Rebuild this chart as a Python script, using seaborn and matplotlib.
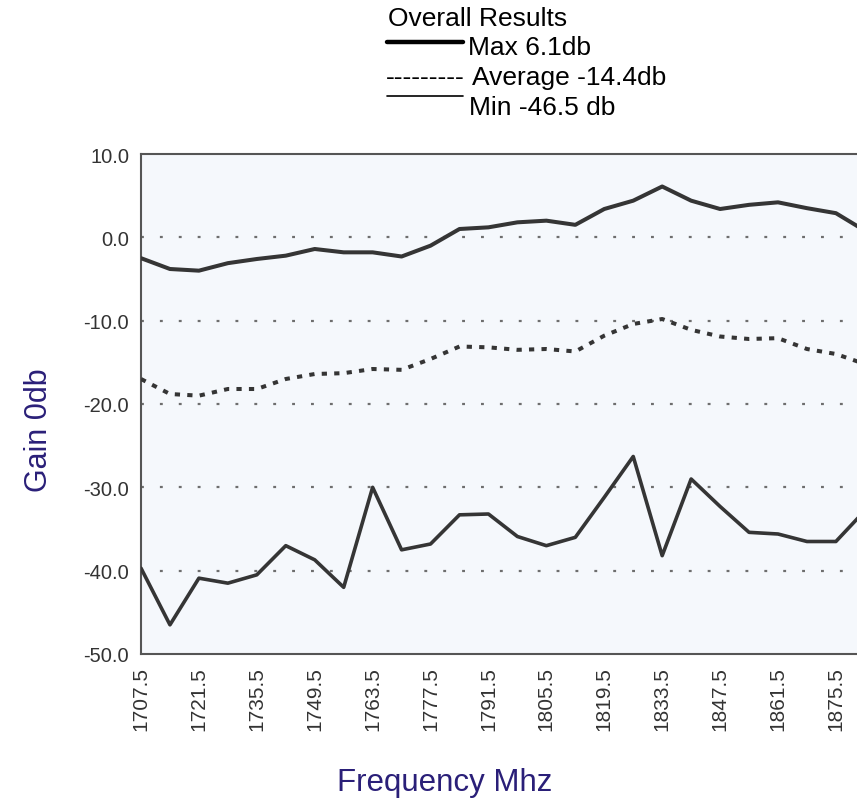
import numpy as np
import pandas as pd
import seaborn as sns
import matplotlib.pyplot as plt
from matplotlib.lines import Line2D

# Frequencies sampled every 7 MHz
freq = [1707.5 + 7 * k for k in range(26)]

max_db = [-2.5, -3.8, -4.0, -3.1, -2.6, -2.2, -1.4, -1.8, -1.8, -2.3, -1.0, 1.0, 1.2,
          1.8, 2.0, 1.5, 3.4, 4.4, 6.1, 4.4, 3.4, 3.9, 4.2, 3.5, 2.9, 0.8]
avg_db = [-17.0, -18.8, -19.0, -18.2, -18.2, -17.0, -16.4, -16.3, -15.8, -15.9, -14.6, -13.1, -13.2,
          -13.5, -13.4, -13.7, -11.8, -10.4, -9.8, -11.1, -11.9, -12.2, -12.1, -13.4, -14.0, -15.2]
min_db = [-39.7, -46.5, -40.9, -41.5, -40.5, -37.0, -38.7, -42.0, -30.0, -37.5, -36.8, -33.3, -33.2,
          -35.9, -37.0, -36.0, -31.2, -26.3, -38.2, -29.0, -32.3, -35.4, -35.6, -36.5, -36.5, -32.8]

y_ticks = [10.0, 0.0, -10.0, -20.0, -30.0, -40.0, -50.0]
legend_lines = ["Max 6.1db", "Average -14.4db", "Min -46.5 db"]

df = pd.DataFrame({"freq": freq, "max": max_db, "avg": avg_db, "min": min_db})

sns.set_theme(style="white")
plt.rcParams['font.family'] = ['Liberation Sans', 'DejaVu Sans']

fig = plt.figure(figsize=(8.57, 8.04), dpi=100)
ax = fig.add_axes([141 / 857, (804 - 655) / 804, (857 - 141) / 857, 500 / 804])
ax.set_facecolor('#f5f8fc')

line_col = '#353535'
for y in [0, -10, -20, -30, -40]:
    ax.axhline(y, color='#6e6e6e', lw=1.6, linestyle=(0, (1.3, 7.2)), zorder=1)

sns.lineplot(data=df, x="freq", y="max", ax=ax, color=line_col, lw=2.9, zorder=3)
sns.lineplot(data=df, x="freq", y="avg", ax=ax, color=line_col, lw=2.9, zorder=3,
             linestyle=(0, (1.3, 1.8)))
sns.lineplot(data=df, x="freq", y="min", ax=ax, color=line_col, lw=2.6, zorder=3)

ax.set_xlim(1707.5, 1880.6)
ax.set_ylim(-50, 10)
ax.set_xticks(freq[:25])
ax.set_xticklabels([f"{f:.1f}" if i % 2 == 0 else "" for i, f in enumerate(freq[:25])],
                   rotation=90, fontsize=15, color='#333333')
ax.set_yticks(y_ticks)
ax.set_yticklabels([f"{v:.1f}" for v in y_ticks], fontsize=14.5, color='#333333')
ax.tick_params(axis='both', direction='inout', length=9, width=1.2, color='#555555', pad=4)

for side in ['left', 'top', 'bottom']:
    ax.spines[side].set_color('#555555')
    ax.spines[side].set_linewidth(1.5)
ax.spines['right'].set_visible(False)

ax.set_xlabel("Frequency Mhz", fontsize=22.5, color='#2a1f78')
ax.set_ylabel("Gain 0db", fontsize=22, color='#2a1f78')
ax.xaxis.set_label_coords((445 - 141) / 716, -(768 - 655) / 500)
ax.yaxis.set_label_coords(-(141 - 54) / 716, (655 - 430) / 500)

# legend block above the plot
def fx(px):
    return px / 857

def fy(py):
    return 1 - py / 804

fig.text(fx(388), fy(19), "Overall Results", fontsize=19, color='black', va='center', ha='left')
fig.add_artist(Line2D([fx(387), fx(463)], [fy(43), fy(43)], color='black', lw=3.2))
fig.text(fx(468), fy(48), legend_lines[0], fontsize=19, color='black', va='center', ha='left')
fig.text(fx(386), fy(78), "---------", fontsize=19, color='black', va='center', ha='left')
fig.text(fx(472), fy(78), legend_lines[1], fontsize=19, color='black', va='center', ha='left')
fig.add_artist(Line2D([fx(387), fx(463)], [fy(97), fy(97)], color='black', lw=1.2))
fig.text(fx(469), fy(108), legend_lines[2], fontsize=19, color='black', va='center', ha='left')

fig.savefig("out.png", dpi=100, facecolor='white')
